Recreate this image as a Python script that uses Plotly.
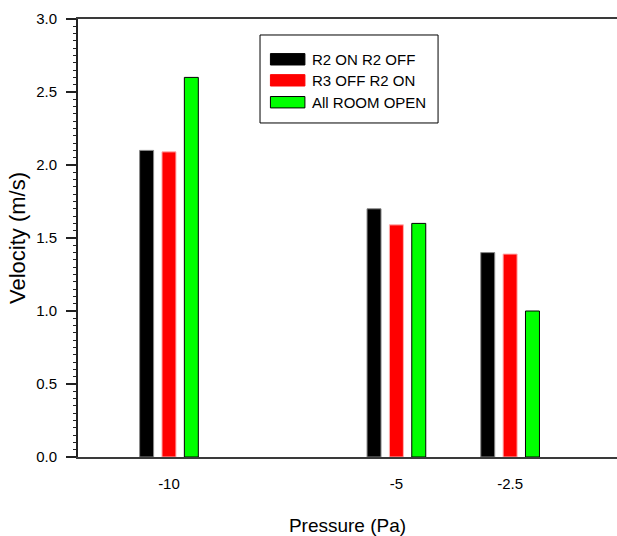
import plotly.graph_objects as go

pressure = [-10, -5, -2.5]
tick_labels = ["-10", "-5", "-2.5"]
r2_on_r2_off = [2.10, 1.70, 1.40]
r3_off_r2_on = [2.09, 1.59, 1.39]
all_room_open = [2.60, 1.60, 1.00]

series_names = ["R2 ON R2 OFF", "R3 OFF R2 ON", "All ROOM OPEN"]
series_values = [r2_on_r2_off, r3_off_r2_on, all_room_open]
fill_colors = ["#000000", "#ff0000", "#00ff00"]
edge_colors = ["#888888", "#ffb0b0", "#000000"]
swatch_edges = ["#000000", "#ff0000", "#000000"]

FONT = "Liberation Sans, Arial, sans-serif"

fig = go.Figure()
for name, vals, col, lcol in zip(series_names, series_values, fill_colors, edge_colors):
    fig.add_trace(go.Bar(
        x=pressure, y=vals, name=name, showlegend=False,
        marker=dict(color=col, line=dict(color=lcol, width=1)),
    ))

# manual legend with wide swatches (paper coordinates)
lx0, lx1, ly0, ly1 = 0.3377, 0.668, 0.7626, 0.9635
shapes = [dict(type="rect", xref="paper", yref="paper", x0=lx0, x1=lx1, y0=ly0, y1=ly1,
               line=dict(color="#000000", width=1), fillcolor="white", layer="above")]
annotations = []
row_centers = [0.908, 0.860, 0.810]
for name, col, ecol, yc in zip(series_names, fill_colors, swatch_edges, row_centers):
    shapes.append(dict(type="rect", xref="paper", yref="paper",
                       x0=0.357, x1=0.421, y0=yc - 0.013, y1=yc + 0.013,
                       line=dict(color=ecol, width=1), fillcolor=col, layer="above"))
    annotations.append(dict(xref="paper", yref="paper", x=0.431, y=yc, xanchor="left",
                            yanchor="middle", text=name, showarrow=False,
                            font=dict(family=FONT, size=15, color="#000000")))

fig.update_layout(
    width=617, height=536,
    margin=dict(l=78, r=0, t=19, b=79),
    paper_bgcolor="white", plot_bgcolor="white",
    barmode="group", bargap=0.41, bargroupgap=0.375,
    font=dict(family=FONT, color="#000000", size=15),
    showlegend=False,
    shapes=shapes, annotations=annotations,
)

fig.update_xaxes(
    range=[-12, -0.15], tickmode="array", tickvals=pressure, ticktext=tick_labels,
    ticks="", ticklabelstandoff=12, showgrid=False, zeroline=False,
    showline=True, linecolor="#3a3a3a", linewidth=2, mirror=True,
    title=dict(text="Pressure (Pa)", font=dict(size=19), standoff=31),
    tickfont=dict(size=15), automargin=True,
)
fig.update_yaxes(
    range=[0, 3], dtick=0.5, tick0=0, tickformat=".1f",
    ticks="outside", ticklen=10, tickwidth=2, tickcolor="#222222",
    ticklabelstandoff=6,
    minor=dict(dtick=0.05, ticks="outside", ticklen=3, tickwidth=1, tickcolor="#222222"),
    showgrid=False, zeroline=False,
    showline=True, linecolor="#222222", linewidth=2, mirror=False,
    title=dict(text="Velocity (m/s)", font=dict(size=22), standoff=4),
    tickfont=dict(size=15), automargin=True,
)

fig.write_html("out.html", config={"displayModeBar": False},
               post_script="document.body.style.margin='0';")
